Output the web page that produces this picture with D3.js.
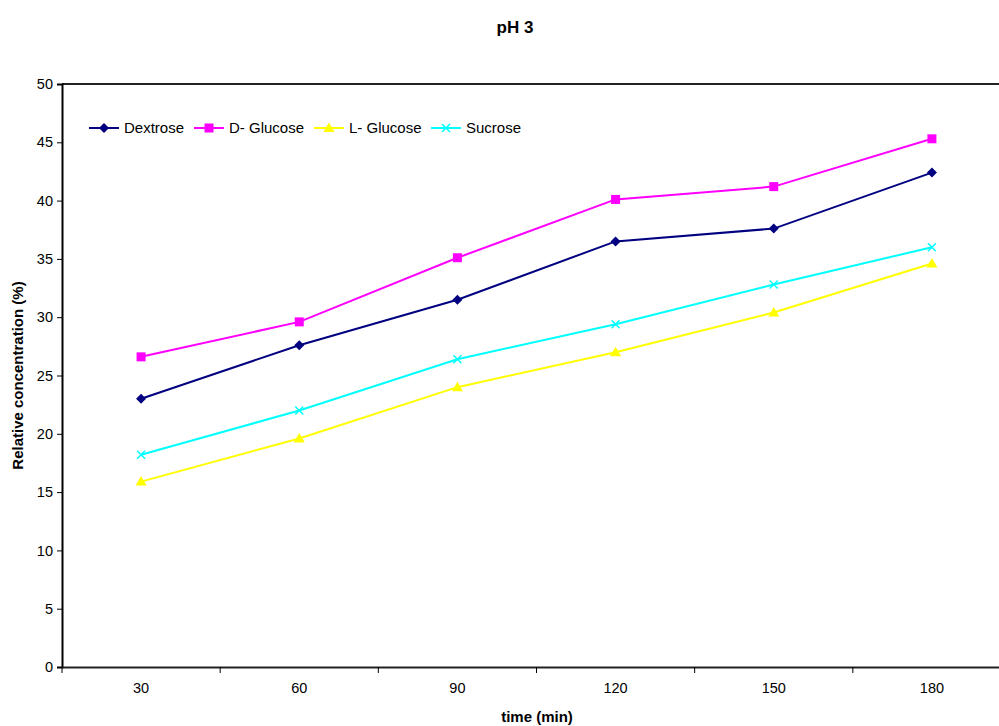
<!DOCTYPE html>
<html><head><meta charset="utf-8">
<script src="https://cdn.jsdelivr.net/npm/d3@7"></script>
<style>body{margin:0;background:#fff}svg{display:block}text{font-family:"Liberation Sans",Arial,sans-serif}</style>
</head><body><svg id="c" width="999" height="726"></svg>
<script>
const categories = ["30","60","90","120","150","180"];
const dextrose = [23.0, 27.6, 31.5, 36.5, 37.6, 42.4];
const dGlucose = [26.6, 29.6, 35.1, 40.1, 41.2, 45.3];
const lGlucose = [15.9, 19.6, 24.0, 27.0, 30.4, 34.6];
const sucrose  = [18.2, 22.0, 26.4, 29.4, 32.8, 36.0];
const yTicks = [0,5,10,15,20,25,30,35,40,45,50];
const seriesNames = ["Dextrose","D- Glucose","L- Glucose","Sucrose"];
const seriesColors = ["#000080","#FF00FF","#FFFF00","#00FFFF"];
const seriesShapes = ["diamond","square","triangle","x"];
const seriesData = [dextrose, dGlucose, lGlucose, sucrose];

const svg = d3.select("#c");
const L = 62, R = 1011, T = 84, B = 667;
const x = d3.scaleBand().domain(categories).range([L, R]);
const y = d3.scaleLinear().domain([0, 50]).range([B, T]);

// title
svg.append("text").attr("x", 515).attr("y", 33).attr("text-anchor","middle")
  .attr("font-size", 17).attr("font-weight","bold").text("pH 3");

// top frame
svg.append("line").attr("x1", L).attr("x2", R).attr("y1", T).attr("y2", T).attr("stroke","#222").attr("stroke-width",2);

// y axis
const ya = svg.append("g").attr("transform", `translate(${L},0)`)
  .call(d3.axisLeft(y).tickValues(yTicks).tickSize(5).tickPadding(4));
ya.select(".domain").attr("stroke","#000").attr("stroke-width",2);
ya.selectAll(".tick line").attr("stroke","#000");
ya.selectAll("text").attr("font-size",14.5).attr("font-family","Liberation Sans, Arial, sans-serif").attr("fill","#000");

// x axis
const xa = svg.append("g").attr("transform", `translate(0,${B})`)
  .call(d3.axisBottom(x).tickSize(0).tickPadding(16));
xa.select(".domain").attr("stroke","#222").attr("stroke-width",2);
xa.selectAll("text").attr("font-size",14.5).attr("font-family","Liberation Sans, Arial, sans-serif").attr("fill","#000");
// ticks at band boundaries
const bounds = categories.map(c => x(c)).concat([x(categories[categories.length-1]) + x.bandwidth()]);
svg.append("g").selectAll("line").data(bounds).join("line")
  .attr("x1", d => d).attr("x2", d => d).attr("y1", B).attr("y2", B+6)
  .attr("stroke","#000").attr("stroke-width",1);

// axis titles
svg.append("text").attr("x", 537).attr("y", 722).attr("text-anchor","middle")
  .attr("font-size", 15).attr("font-weight","bold").text("time (min)");
svg.append("text").attr("transform", `translate(23,${(T+B)/2}) rotate(-90)`).attr("text-anchor","middle")
  .attr("font-size", 15).attr("font-weight","bold").text("Relative concentration (%)");

function marker(g, shape, color, cx, cy) {
  if (shape === "diamond") {
    g.append("path").attr("d", `M${cx},${cy-5}L${cx+5},${cy}L${cx},${cy+5}L${cx-5},${cy}Z`).attr("fill", color);
  } else if (shape === "square") {
    g.append("rect").attr("x", cx-4.5).attr("y", cy-4.5).attr("width",9).attr("height",9).attr("fill", color);
  } else if (shape === "triangle") {
    g.append("path").attr("d", `M${cx},${cy-5.5}L${cx+5.5},${cy+4}L${cx-5.5},${cy+4}Z`).attr("fill", color);
  } else {
    g.append("path").attr("d", `M${cx-4},${cy-4}L${cx+4},${cy+4}M${cx-4},${cy+4}L${cx+4},${cy-4}`)
      .attr("stroke", color).attr("stroke-width",1.5).attr("fill","none");
  }
}

const line = d3.line().x((d,i) => x(categories[i]) + x.bandwidth()/2).y(d => y(d));
seriesData.forEach((data, si) => {
  const g = svg.append("g");
  g.append("path").datum(data).attr("d", line).attr("fill","none")
    .attr("stroke", seriesColors[si]).attr("stroke-width", 2);
  data.forEach((v, i) => marker(g, seriesShapes[si], seriesColors[si], x(categories[i]) + x.bandwidth()/2, y(v)));
});

// legend
const legendX = [89, 194, 314, 431];
const ly = 128;
seriesNames.forEach((n, i) => {
  const g = svg.append("g");
  g.append("line").attr("x1", legendX[i]).attr("x2", legendX[i]+30).attr("y1", ly).attr("y2", ly)
    .attr("stroke", seriesColors[i]).attr("stroke-width", 2);
  marker(g, seriesShapes[i], seriesColors[i], legendX[i]+15, ly);
  g.append("text").attr("x", legendX[i]+35).attr("y", ly+5).attr("font-size",15).text(n);
});
</script></body></html>
